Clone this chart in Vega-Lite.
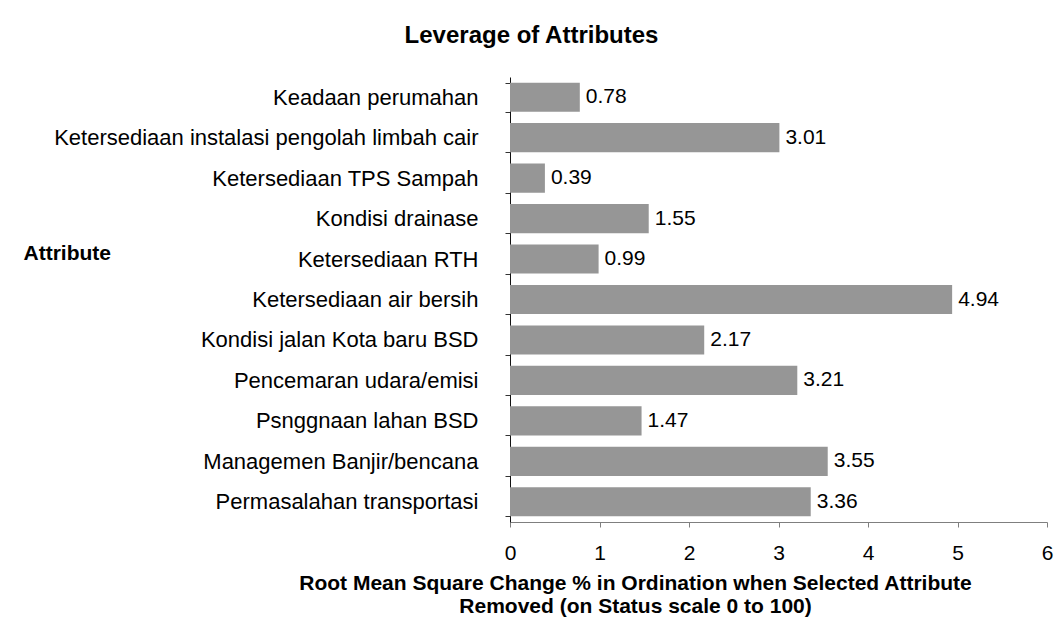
{
  "$schema": "https://vega.github.io/schema/vega-lite/v6.json",
  "width": 537,
  "height": 445,
  "autosize": {"type": "none"},
  "padding": {"left": 510, "top": 77, "right": 14, "bottom": 114},
  "background": "white",
  "config": {
    "view": {"stroke": null},
    "font": "Liberation Sans"
  },
  "title": {
    "text": "Leverage of Attributes",
    "fontSize": 24,
    "fontWeight": "bold",
    "font": "Liberation Sans",
    "color": "#000000",
    "anchor": "middle",
    "frame": "group",
    "dx": -247,
    "offset": 18
  },
  "data": {
    "values": [
      {"attribute": "Keadaan perumahan", "value": 0.78},
      {"attribute": "Ketersediaan instalasi pengolah limbah cair", "value": 3.01},
      {"attribute": "Ketersediaan TPS Sampah", "value": 0.39},
      {"attribute": "Kondisi drainase", "value": 1.55},
      {"attribute": "Ketersediaan RTH", "value": 0.99},
      {"attribute": "Ketersediaan air bersih", "value": 4.94},
      {"attribute": "Kondisi jalan Kota baru BSD", "value": 2.17},
      {"attribute": "Pencemaran udara/emisi", "value": 3.21},
      {"attribute": "Psnggnaan lahan BSD", "value": 1.47},
      {"attribute": "Managemen Banjir/bencana", "value": 3.55},
      {"attribute": "Permasalahan transportasi", "value": 3.36}
    ]
  },
  "encoding": {
    "y": {
      "field": "attribute",
      "type": "nominal",
      "sort": null,
      "scale": {"paddingInner": 0.28, "paddingOuter": 0.14},
      "axis": {
        "title": "Attribute",
        "titleAngle": 0,
        "titleFontSize": 21,
        "titleFontWeight": "bold",
        "titleColor": "#000000",
        "titleAlign": "left",
        "titleBaseline": "middle",
        "titleX": -487,
        "titleY": 176,
        "labelFontSize": 22,
        "labelColor": "#000000",
        "labelPadding": 27,
        "labelLimit": 0,
        "tickBand": "extent",
        "tickSize": 5,
        "tickColor": "#333333",
        "domainColor": "#111111",
        "grid": false
      }
    },
    "x": {
      "field": "value",
      "type": "quantitative",
      "scale": {"domain": [0, 6], "nice": false},
      "axis": {
        "title": ["Root Mean Square Change % in Ordination when Selected Attribute", "Removed (on Status scale 0 to 100)"],
        "titleFontSize": 21,
        "titleFontWeight": "bold",
        "titleColor": "#000000",
        "titleAlign": "center",
        "titleBaseline": "top",
        "titleLineHeight": 23,
        "titleX": 125,
        "titleY": 50,
        "values": [0, 1, 2, 3, 4, 5, 6],
        "labelFontSize": 21,
        "labelColor": "#000000",
        "labelPadding": 15,
        "labelFlush": false,
        "tickSize": 5,
        "tickColor": "#7f7f7f",
        "domainColor": "#7f7f7f",
        "grid": false
      }
    }
  },
  "layer": [
    {"mark": {"type": "bar", "color": "#969696"}},
    {
      "mark": {"type": "text", "align": "left", "baseline": "middle", "dx": 6, "fontSize": 21, "color": "#000000"},
      "encoding": {"text": {"field": "value", "type": "quantitative", "format": ".2f"}}
    }
  ]
}
